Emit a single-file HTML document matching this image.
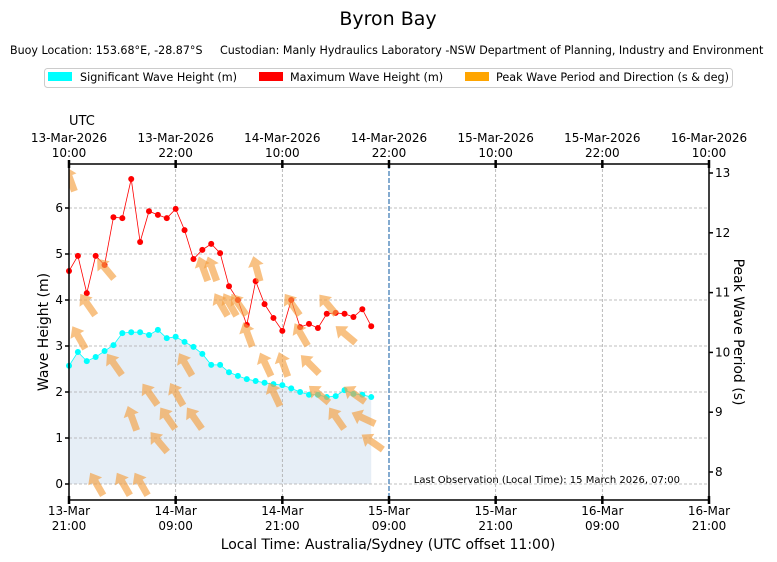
<!DOCTYPE html>
<html><head><meta charset="utf-8"><style>
body{margin:0;background:#fff;}
svg{display:block;font-family:"DejaVu Sans","Liberation Sans",sans-serif;}
</style></head><body>
<svg width="777" height="562" viewBox="0 0 777 562">
<text x="388" y="25" text-anchor="middle" font-size="19">Byron Bay</text>
<text x="10" y="54" font-size="11.1">Buoy Location: 153.68°E, -28.87°S</text>
<text x="220" y="54" font-size="11.1">Custodian: Manly Hydraulics Laboratory -NSW Department of Planning, Industry and Environment</text>
<g>
<rect x="44.5" y="68.5" width="688" height="19" rx="3" fill="#fff" stroke="#ccc"/>
<g><rect x="48" y="72" width="24" height="9" fill="#00ffff"/><text x="80" y="81" font-size="11.2">Significant Wave Height (m)</text></g>
<g><rect x="259" y="72" width="24" height="9" fill="#ff0000"/><text x="290" y="81" font-size="11.2">Maximum Wave Height (m)</text></g>
<g><rect x="465" y="72" width="24" height="9" fill="#ffa500"/><text x="496" y="81" font-size="11.2">Peak Wave Period and Direction (s &amp; deg)</text></g>
</g>
<text x="69" y="125" font-size="13">UTC</text>
<g id="plot"></g>
<text x="388" y="549" text-anchor="middle" font-size="14">Local Time: Australia/Sydney (UTC offset 11:00)</text>
<text transform="translate(48,332) rotate(-90)" text-anchor="middle" font-size="14">Wave Height (m)</text>
<text transform="translate(734,332) rotate(90)" text-anchor="middle" font-size="14">Peak Wave Period (s)</text>
<text x="680" y="483" text-anchor="end" font-size="10">Last Observation (Local Time): 15 March 2026, 07:00</text>
</svg>
<script>
const hs=[2.57,2.87,2.67,2.76,2.89,3.02,3.28,3.30,3.30,3.24,3.35,3.17,3.20,3.09,2.98,2.83,2.59,2.59,2.43,2.35,2.28,2.24,2.20,2.17,2.15,2.08,2.00,1.94,1.94,1.89,1.91,2.04,1.96,1.94,1.89];
const hmax=[4.63,4.96,4.15,4.96,4.76,5.80,5.78,6.63,5.26,5.93,5.85,5.78,5.98,5.52,4.89,5.09,5.22,5.02,4.30,4.00,3.46,4.41,3.91,3.61,3.33,4.00,3.41,3.48,3.39,3.70,3.72,3.70,3.63,3.80,3.43];
const tp=[12.9,10.25,10.8,7.8,11.4,9.8,7.8,8.9,7.8,9.3,8.5,8.9,9.3,9.8,8.9,11.4,11.4,10.8,10.8,10.8,10.3,11.4,9.8,9.3,9.8,10.8,10.3,9.8,9.3,10.8,8.9,10.3,9.3,8.9,8.5];
const dir=[160,150,145,150,140,145,150,160,150,145,140,145,150,150,145,160,160,150,150,145,160,165,155,155,160,145,150,135,130,140,145,130,125,115,125];
const bottomLabels=[["13-Mar","21:00"],["14-Mar","09:00"],["14-Mar","21:00"],["15-Mar","09:00"],["15-Mar","21:00"],["16-Mar","09:00"],["16-Mar","21:00"]];
const topLabels=[["13-Mar-2026","10:00"],["13-Mar-2026","22:00"],["14-Mar-2026","10:00"],["14-Mar-2026","22:00"],["15-Mar-2026","10:00"],["15-Mar-2026","22:00"],["16-Mar-2026","10:00"]];
const leftTicks=[0,1,2,3,4,5,6];
const rightTicks=[8,9,10,11,12,13];
const lastObsHour=36;

const L=69,R=709,T=164,B=500;
const xs=h=>L+h*(R-L)/72;
const ys=v=>484-v*46;
const yr=t=>173+(13-t)*59.8;
const NS="http://www.w3.org/2000/svg";
const g=document.getElementById('plot');
function mk(tag,a,p){const e=document.createElementNS(NS,tag);for(const k in a)e.setAttribute(k,a[k]);(p||g).appendChild(e);return e;}
const defs=mk('defs',{});const cp=mk('clipPath',{id:'clip'},defs);mk('rect',{x:L,y:T,width:R-L,height:B-T},cp);
let d=`M${xs(0)},${ys(0)} `+hs.map((v,i)=>`L${xs(i)},${ys(v)}`).join(' ')+` L${xs(hs.length-1)},${ys(0)} Z`;
let f=mk('path',{d:d,fill:'#e6eef6'});


leftTicks.forEach(v=>{let l=mk('line',{x1:L,x2:R,y1:ys(v),y2:ys(v),stroke:'#aaa','stroke-dasharray':'3,2','stroke-width':0.8});

});
bottomLabels.forEach((b,i)=>{if(i==0||i==6||i==3)return;let l=mk('line',{x1:xs(i*12),x2:xs(i*12),y1:T,y2:B,stroke:'#aaa','stroke-dasharray':'3,2','stroke-width':0.8});

});
let lo=mk('line',{x1:xs(lastObsHour),x2:xs(lastObsHour),y1:T,y2:B,stroke:'#5b8fc0','stroke-dasharray':'5,2','stroke-width':1.5});


function series(arr,col,name){
 let p=mk('polyline',{points:arr.map((v,i)=>`${xs(i)},${ys(v)}`).join(' '),fill:'none',stroke:col,'stroke-width':0.8});
 
 
 arr.forEach((v,i)=>{let c=mk('circle',{cx:xs(i),cy:ys(v),r:3,fill:col});
 
 });
}
series(hs,'#00ffff','hs');
series(hmax,'#ff0000','hmax');
const ag=mk('g',{'clip-path':'url(#clip)'});
tp.forEach((t,i)=>{
 const a=mk('path',{d:'M0,-13 L8,-3 L3.5,-3 L3.5,13 L-3.5,13 L-3.5,-3 L-8,-3 Z',fill:'#f5a040','fill-opacity':0.65,
 transform:`translate(${xs(i)+1},${yr(t)}) rotate(${dir[i]-180})`},ag);
 
 
});
let fr=mk('rect',{x:L,y:T,width:R-L,height:B-T,fill:'none',stroke:'#000','stroke-width':1.5});


leftTicks.forEach(v=>{mk('line',{x1:L-4,x2:L,y1:ys(v),y2:ys(v),stroke:'#000','stroke-width':1.5});
let t=mk('text',{x:L-6,y:ys(v)+4,'text-anchor':'end','font-size':12});t.textContent=v;

});
rightTicks.forEach(v=>{mk('line',{x1:R,x2:R+4,y1:yr(v),y2:yr(v),stroke:'#000','stroke-width':1.5});
let t=mk('text',{x:R+6,y:yr(v)+4,'font-size':12});t.textContent=v;

});
bottomLabels.forEach((b,i)=>{const x=xs(i*12);
mk('line',{x1:x,x2:x,y1:B-4,y2:B+4,stroke:'#000','stroke-width':2.5});
let t=mk('text',{x:x,y:515,'text-anchor':'middle','font-size':12});t.textContent=b[0];


let t2=mk('text',{x:x,y:530,'text-anchor':'middle','font-size':12});t2.textContent=b[1];

});
topLabels.forEach((b,i)=>{const x=xs(i*12);
mk('line',{x1:x,x2:x,y1:T-4,y2:T+4,stroke:'#000','stroke-width':2.5});
let t=mk('text',{x:x,y:142,'text-anchor':'middle','font-size':12});t.textContent=b[0];


let t2=mk('text',{x:x,y:157,'text-anchor':'middle','font-size':12});t2.textContent=b[1];

});
</script>
</body></html>
